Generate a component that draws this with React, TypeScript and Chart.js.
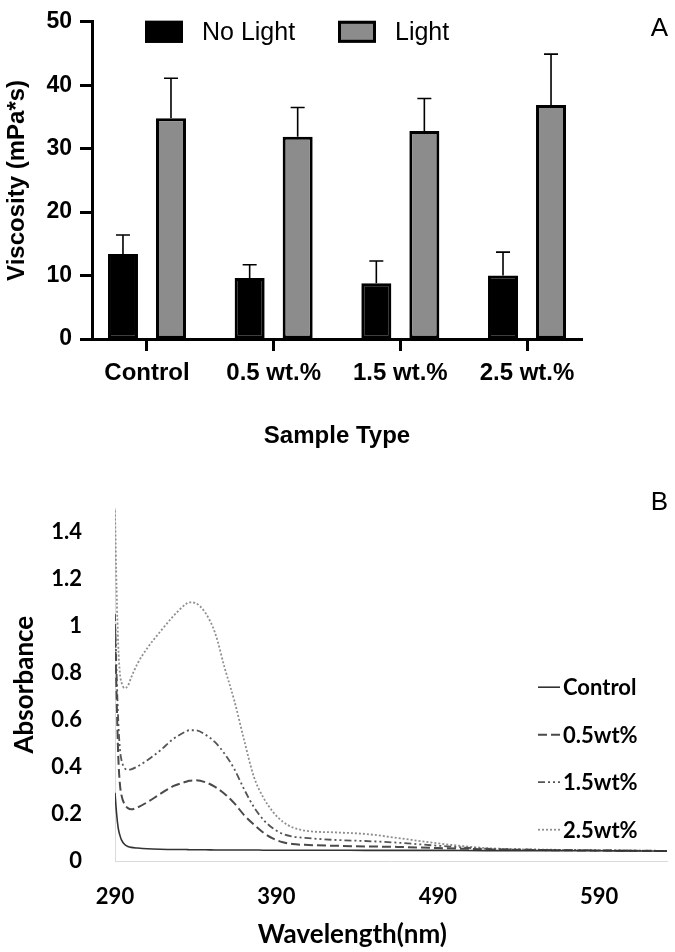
import React, { useEffect, useRef } from 'react';
import { Chart, registerables } from 'chart.js';

Chart.register(...registerables);

// ---------- Panel A data ----------
const sampleTypes = ['Control', '0.5 wt.%', '1.5 wt.%', '2.5 wt.%'];
const noLightMean = [13.4, 9.6, 8.8, 10.0];
const noLightErr = [3.0, 2.1, 3.5, 3.7];
const lightMean = [34.8, 31.9, 32.8, 36.9];
const lightErr = [6.3, 4.6, 5.1, 8.0];
const viscosityTicks = [0, 10, 20, 30, 40, 50];

// ---------- Panel B data ----------
const wavelengths = [290, 291, 292, 293, 294, 296, 298, 300, 304, 310, 318, 326, 334, 336, 340, 346, 352, 358, 364, 370, 376, 382, 388, 394, 400, 410, 425, 445, 465, 490, 520, 560, 600, 632];
const controlAbs = [0.29, 0.2, 0.14, 0.11, 0.09, 0.07, 0.062, 0.058, 0.055, 0.052, 0.05, 0.049, 0.049, 0.048, 0.048, 0.048, 0.047, 0.047, 0.047, 0.047, 0.047, 0.046, 0.046, 0.046, 0.046, 0.046, 0.046, 0.045, 0.045, 0.045, 0.044, 0.044, 0.043, 0.042];
const wt05Abs = [1.0, 0.7, 0.45, 0.33, 0.28, 0.24, 0.225, 0.22, 0.228, 0.25, 0.285, 0.318, 0.337, 0.341, 0.343, 0.335, 0.315, 0.285, 0.245, 0.195, 0.155, 0.12, 0.095, 0.08, 0.072, 0.068, 0.065, 0.062, 0.06, 0.055, 0.05, 0.046, 0.044, 0.042];
const wt15Abs = [1.05, 0.8, 0.6, 0.48, 0.43, 0.395, 0.388, 0.39, 0.402, 0.428, 0.47, 0.518, 0.551, 0.556, 0.556, 0.537, 0.505, 0.455, 0.39, 0.305, 0.23, 0.175, 0.138, 0.115, 0.104, 0.097, 0.09, 0.085, 0.078, 0.065, 0.052, 0.047, 0.045, 0.043];
const wt25Abs = [1.49, 1.15, 0.92, 0.8, 0.76, 0.735, 0.745, 0.78, 0.84, 0.905, 0.975, 1.04, 1.093, 1.1, 1.096, 1.055, 0.97, 0.82, 0.68, 0.514, 0.359, 0.269, 0.208, 0.167, 0.143, 0.127, 0.122, 0.115, 0.098, 0.075, 0.055, 0.048, 0.045, 0.043];
const seriesLabels = ['Control', '0.5wt%', '1.5wt%', '2.5wt%'];
const wavelengthTicks = [290, 390, 490, 590];
const absorbanceTicks = [0, 0.2, 0.4, 0.6, 0.8, 1.0, 1.2, 1.4];

const ARIAL = '"Liberation Sans", Arial, sans-serif';
const CALI = 'Lato, "Open Sans", sans-serif';

const errorBarPlugin = {
  id: 'errorBars',
  afterDatasetsDraw(chart: any) {
    const ctx = chart.ctx;
    const y = chart.scales.y;
    chart.data.datasets.forEach((ds: any, di: number) => {
      const meta = chart.getDatasetMeta(di);
      meta.data.forEach((bar: any, i: number) => {
        const v = ds.data[i].y;
        const top = y.getPixelForValue(v + ds.errors[i]);
        ctx.save();
        ctx.strokeStyle = '#000';
        ctx.lineWidth = 1.6;
        ctx.beginPath();
        ctx.moveTo(bar.x, bar.y);
        ctx.lineTo(bar.x, top);
        ctx.moveTo(bar.x - 7, top);
        ctx.lineTo(bar.x + 7, top);
        ctx.stroke();
        ctx.restore();
      });
    });
  },
};

const topLegendPlugin = {
  id: 'topLegend',
  afterDraw(chart: any) {
    const { ctx, chartArea } = chart;
    const cy = chartArea.top + 10;
    const xs = [chartArea.left + 53, chartArea.left + 246];
    chart.data.datasets.forEach((d: any, i: number) => {
      const x = xs[i];
      ctx.save();
      ctx.fillStyle = d.backgroundColor;
      ctx.fillRect(x, cy - 11, 38, 22);
      ctx.lineWidth = 3;
      ctx.strokeStyle = '#000';
      ctx.strokeRect(x + 1.5, cy - 9.5, 35, 19);
      ctx.fillStyle = '#000';
      ctx.font = `25px ${ARIAL}`;
      ctx.textBaseline = 'middle';
      ctx.textAlign = 'left';
      ctx.fillText(d.label, x + 57, cy + 1);
      ctx.restore();
    });
    ctx.save();
    ctx.fillStyle = '#000';
    ctx.font = `26px ${ARIAL}`;
    ctx.textAlign = 'right';
    ctx.textBaseline = 'middle';
    ctx.fillText('A', chart.width - 7, 29);
    ctx.restore();
  },
};

const bottomExtrasPlugin = {
  id: 'bottomExtras',
  afterDraw(chart: any) {
    const { ctx, chartArea } = chart;
    chart.data.datasets.forEach((d: any, i: number) => {
      const y = chartArea.top + 179 + i * 47.5;
      const x0 = chartArea.right - 129;
      ctx.save();
      ctx.strokeStyle = d.borderColor;
      ctx.lineWidth = d.borderWidth;
      ctx.setLineDash(d.borderDash || []);
      ctx.beginPath();
      ctx.moveTo(x0, y);
      ctx.lineTo(x0 + 22, y);
      ctx.stroke();
      ctx.setLineDash([]);
      ctx.fillStyle = '#000';
      ctx.font = `bold 22px ${CALI}`;
      ctx.textBaseline = 'middle';
      ctx.textAlign = 'left';
      ctx.fillText(d.label, x0 + 25, y + 1);
      ctx.restore();
    });
    ctx.save();
    ctx.fillStyle = '#000';
    ctx.font = `26px ${ARIAL}`;
    ctx.textAlign = 'right';
    ctx.textBaseline = 'middle';
    ctx.fillText('B', chart.width - 7, 33);
    ctx.font = `bold 26px ${CALI}`;
    ctx.textAlign = 'center';
    ctx.fillText('Wavelength(nm)', chartArea.left + (chartArea.right - chartArea.left) * 0.43, chart.height - 17);
    ctx.restore();
  },
};

function ViscosityChart() {
  const ref = useRef<HTMLCanvasElement | null>(null);
  useEffect(() => {
    const idx = sampleTypes.map((_, i) => i);
    const chart = new Chart(ref.current as HTMLCanvasElement, {
      type: 'bar',
      data: {
        datasets: [
          {
            label: 'No Light',
            data: idx.map((i) => ({ x: i, y: noLightMean[i] })),
            backgroundColor: '#000000',
            borderColor: '#000000',
            borderWidth: 3,
            borderSkipped: false,
            errors: noLightErr,
          } as any,
          {
            label: 'Light',
            data: idx.map((i) => ({ x: i, y: lightMean[i] })),
            backgroundColor: '#8c8c8c',
            borderColor: '#000000',
            borderWidth: 3,
            borderSkipped: false,
            errors: lightErr,
          } as any,
        ],
      },
      options: {
        animation: false,
        responsive: false,
        layout: { padding: { top: 14, right: 93, left: 0, bottom: 0 } },
        datasets: { bar: { barPercentage: 0.625, categoryPercentage: 0.758 } },
        scales: {
          x: {
            type: 'linear',
            offset: false,
            min: -0.434,
            max: 3.434,
            afterBuildTicks: (s: any) => { s.ticks = idx.map((v) => ({ value: v })); },
            afterFit: (s: any) => { s.height = 126; },
            ticks: {
              callback: (v: any) => sampleTypes[v] ?? '',
              font: { family: ARIAL, size: 24, weight: 'bold' },
              color: '#000',
              padding: 8,
              maxRotation: 0,
              autoSkip: false,
            },
            grid: { display: true, offset: false, drawOnChartArea: false, drawTicks: true, tickLength: 12, tickWidth: 3, tickColor: '#000' },
            border: { display: true, width: 3, color: '#000' },
            title: { display: true, text: 'Sample Type', color: '#000', font: { family: ARIAL, size: 24, weight: 'bold' }, padding: { top: 0, bottom: 14 } },
          } as any,
          y: {
            min: 0,
            max: 50,
            afterBuildTicks: (s: any) => { s.ticks = viscosityTicks.map((v) => ({ value: v })); },
            afterFit: (s: any) => { s.width = 92; },
            ticks: { font: { family: ARIAL, size: 23, weight: 'bold' }, color: '#000', padding: 8 },
            grid: { display: true, drawOnChartArea: false, drawTicks: true, tickLength: 12, tickWidth: 3, tickColor: '#000' },
            border: { display: true, width: 3, color: '#000' },
            title: { display: true, text: 'Viscosity (mPa*s)', color: '#000', font: { family: ARIAL, size: 24, weight: 'bold' }, padding: { top: 3, bottom: 0 } },
          } as any,
        },
        plugins: { legend: { display: false }, tooltip: { enabled: false } },
      },
      plugins: [errorBarPlugin, topLegendPlugin],
    });
    return () => chart.destroy();
  }, []);
  return <canvas ref={ref} width={675} height={465} style={{ position: 'absolute', left: 0, top: 0, width: 675, height: 465 }} />;
}

function AbsorbanceChart() {
  const ref = useRef<HTMLCanvasElement | null>(null);
  useEffect(() => {
    const series = [controlAbs, wt05Abs, wt15Abs, wt25Abs];
    const colors = ['#333333', '#4a4a4a', '#555555', '#8f8f8f'];
    const widths = [1.6, 2, 1.8, 1.8];
    const dashes = [[], [9, 4], [7, 3, 2, 3, 2, 3], [2, 2]];
    const chart = new Chart(ref.current as HTMLCanvasElement, {
      type: 'line',
      data: {
        datasets: series.map((vals, s) => ({
          label: seriesLabels[s],
          data: wavelengths.map((w, i) => ({ x: w, y: vals[i] })),
          borderColor: colors[s],
          borderWidth: widths[s],
          borderDash: dashes[s],
          pointRadius: 0,
          fill: false,
          cubicInterpolationMode: 'monotone',
        })) as any,
      },
      options: {
        animation: false,
        responsive: false,
        layout: { padding: { top: 24, right: 8, left: 0, bottom: 0 } },
        scales: {
          x: {
            type: 'linear',
            min: 290,
            max: 632,
            afterBuildTicks: (s: any) => { s.ticks = wavelengthTicks.map((v) => ({ value: v })); },
            afterFit: (s: any) => { s.height = 91; },
            ticks: { font: { family: CALI, size: 22, weight: 'bold' }, color: '#000', padding: 15, maxRotation: 0, autoSkip: false },
            grid: { display: false },
            border: { display: true, width: 1, color: '#dadada' },
          } as any,
          y: {
            min: 0,
            max: 1.5,
            afterBuildTicks: (s: any) => { s.ticks = absorbanceTicks.map((v) => ({ value: v })); },
            afterFit: (s: any) => { s.width = 115; },
            ticks: {
              callback: (v: any) => String(Math.round(Number(v) * 10) / 10),
              font: { family: CALI, size: 22, weight: 'bold' },
              color: '#000',
              padding: 25,
            },
            grid: { display: false },
            border: { display: true, width: 1, color: '#dadada' },
            title: { display: true, text: 'Absorbance', color: '#000', font: { family: CALI, size: 26, weight: 'bold' }, padding: { top: 9, bottom: 0 } },
          } as any,
        },
        plugins: { legend: { display: false }, tooltip: { enabled: false } },
      },
      plugins: [bottomExtrasPlugin],
    });
    return () => chart.destroy();
  }, []);
  return <canvas ref={ref} width={675} height={482} style={{ position: 'absolute', left: 0, top: 470, width: 675, height: 482 }} />;
}

export default function App() {
  return (
    <div style={{ position: 'absolute', left: 0, top: 0, width: 675, height: 952, background: '#fff', overflow: 'hidden' }}>
      <ViscosityChart />
      <AbsorbanceChart />
    </div>
  );
}
